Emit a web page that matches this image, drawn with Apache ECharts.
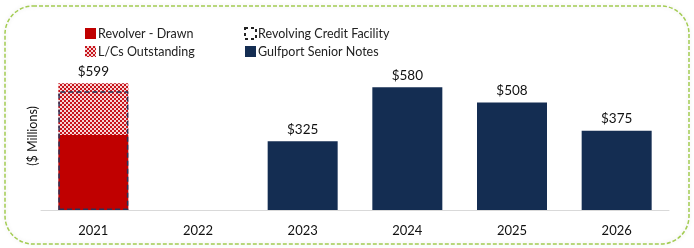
<!DOCTYPE html>
<html>
<head>
<meta charset="utf-8">
<script src="https://cdn.jsdelivr.net/npm/echarts@6/dist/echarts.min.js"></script>
<style>
  html, body { margin: 0; padding: 0; background: #fff; }
  #chart { width: 694px; height: 248px; }
</style>
</head>
<body>
<div id="chart"></div>
<script>
// data
const years = ['2021', '2022', '2023', '2024', '2025', '2026'];
const revolverDrawn = [355, null, null, null, null, null];
const lcsOutstanding = [244, null, null, null, null, null];
const creditFacility = [562, null, null, null, null, null];
const seniorNotes = [null, null, 325, 580, 508, 375];

// checker pattern for L/Cs
function checker() {
    const c = document.createElement('canvas');
    c.width = 4; c.height = 4;
    const ctx = c.getContext('2d');
    ctx.fillStyle = '#f6d6d6';
    ctx.fillRect(0, 0, 4, 4);
    ctx.fillStyle = '#c8141c';
    ctx.fillRect(0, 0, 2, 2);
    ctx.fillRect(2, 2, 2, 2);
    return c;
}

const font = 'Lato, "Open Sans", sans-serif';
const myChart = echarts.init(document.getElementById('chart'));

const legendText = { fontFamily: font, fontSize: 12.5, color: '#222', padding: [0, 0, 0, -3] };

const option = {
    animation: false,
    textStyle: { fontFamily: font },
    graphic: [{
        type: 'rect',
        silent: true,
        shape: { x: 5, y: 6, width: 684, height: 238, r: 28 },
        style: {
            fill: 'none',
            stroke: '#a3cc52',
            lineWidth: 1.5,
            lineDash: [4, 2],
            shadowColor: 'rgba(0,0,0,0.12)',
            shadowBlur: 4
        }
    }],
    legend: [{
        left: 80,
        top: 22,
        orient: 'vertical',
        itemWidth: 11,
        itemHeight: 11,
        itemGap: 5,
        icon: 'rect',
        textStyle: legendText,
        data: ['Revolver - Drawn', 'L/Cs Outstanding']
    }, {
        left: 239,
        top: 22,
        orient: 'vertical',
        itemWidth: 11,
        itemHeight: 11,
        itemGap: 5,
        icon: 'rect',
        textStyle: legendText,
        data: [
            { name: 'Revolving Credit Facility', itemStyle: { borderType: [3, 3], borderWidth: 2, borderColor: '#222' } },
            'Gulfport Senior Notes'
        ]
    }],
    grid: {
        left: 41,
        right: 25,
        top: 62,
        bottom: 38,
        containLabel: false
    },
    xAxis: {
        type: 'category',
        data: years,
        axisTick: { show: false },
        axisLine: { show: true, lineStyle: { color: '#d9d9d9', width: 1 } },
        axisLabel: { color: '#111', fontSize: 13, margin: 14, fontFamily: font }
    },
    yAxis: {
        type: 'value',
        min: 0,
        max: 700,
        name: '($ Millions)',
        nameLocation: 'middle',
        nameRotate: 90,
        nameGap: 2,
        nameTextStyle: { color: '#111', fontSize: 12.5, fontFamily: font },
        axisLabel: { show: false },
        axisTick: { show: false },
        axisLine: { show: false },
        splitLine: { show: false }
    },
    series: [{
        name: 'Revolver - Drawn',
        type: 'bar',
        stack: 'rev',
        barWidth: 70,
        barGap: '-100%',
        data: revolverDrawn,
        itemStyle: { color: '#c00000' }
    }, {
        name: 'L/Cs Outstanding',
        type: 'bar',
        stack: 'rev',
        barWidth: 70,
        barGap: '-100%',
        data: lcsOutstanding,
        itemStyle: { color: { image: checker(), repeat: 'repeat' } },
        label: {
            show: true,
            position: 'top',
            distance: 5,
            color: '#111',
            fontSize: 13.5,
            fontFamily: font,
            formatter: p => '$' + (revolverDrawn[p.dataIndex] + lcsOutstanding[p.dataIndex])
        }
    }, {
        name: 'Gulfport Senior Notes',
        type: 'bar',
        barWidth: 70,
        barGap: '-100%',
        data: seniorNotes,
        itemStyle: { color: '#142d52' },
        label: {
            show: true,
            position: 'top',
            distance: 5,
            color: '#111',
            fontSize: 13.5,
            fontFamily: font,
            formatter: p => '$' + p.value
        }
    }, {
        name: 'Revolving Credit Facility',
        type: 'bar',
        barWidth: 70,
        barGap: '-100%',
        z: 5,
        data: creditFacility,
        itemStyle: {
            color: 'rgba(0,0,0,0)',
            borderColor: '#26345a',
            borderWidth: 1.5,
            borderType: [5, 3]
        }
    }]
};
myChart.setOption(option);
</script>
</body>
</html>
